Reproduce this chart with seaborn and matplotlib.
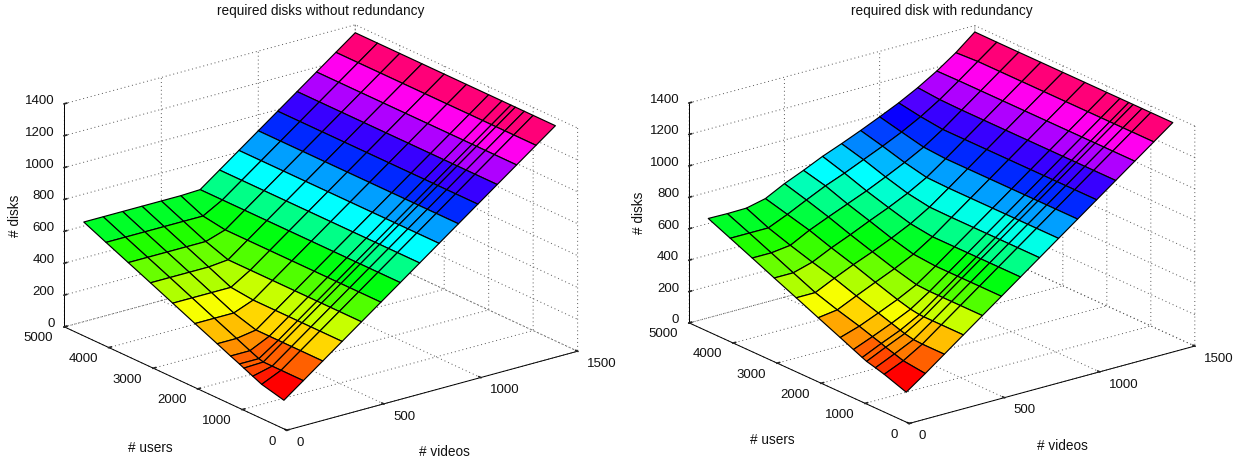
import numpy as np
import seaborn as sns
import matplotlib
matplotlib.use("Agg")
import matplotlib.pyplot as plt
from mpl_toolkits.mplot3d import proj3d

videos = [100, 200, 300, 400, 500, 600, 700, 800, 900, 1000, 1100, 1200, 1300, 1400, 1500]
users = [500, 1000, 1200, 1400, 1500, 1700, 2000, 2500, 3000, 3500, 4000, 4500, 5000]

# rows follow users, columns follow videos
disks_plain = [
    [90, 180, 270, 360, 450, 540, 630, 720, 810, 900, 990, 1080, 1170, 1260, 1350],
    [125, 180, 270, 360, 450, 540, 630, 720, 810, 900, 990, 1080, 1170, 1260, 1350],
    [150, 180, 270, 360, 450, 540, 630, 720, 810, 900, 990, 1080, 1170, 1260, 1350],
    [175, 180, 270, 360, 450, 540, 630, 720, 810, 900, 990, 1080, 1170, 1260, 1350],
    [188, 188, 270, 360, 450, 540, 630, 720, 810, 900, 990, 1080, 1170, 1260, 1350],
    [212, 212, 270, 360, 450, 540, 630, 720, 810, 900, 990, 1080, 1170, 1260, 1350],
    [250, 250, 270, 360, 450, 540, 630, 720, 810, 900, 990, 1080, 1170, 1260, 1350],
    [312, 312, 312, 360, 450, 540, 630, 720, 810, 900, 990, 1080, 1170, 1260, 1350],
    [375, 375, 375, 375, 450, 540, 630, 720, 810, 900, 990, 1080, 1170, 1260, 1350],
    [438, 438, 438, 438, 450, 540, 630, 720, 810, 900, 990, 1080, 1170, 1260, 1350],
    [500, 500, 500, 500, 500, 540, 630, 720, 810, 900, 990, 1080, 1170, 1260, 1350],
    [562, 562, 562, 562, 562, 562, 630, 720, 810, 900, 990, 1080, 1170, 1260, 1350],
    [625, 625, 625, 625, 625, 625, 630, 720, 810, 900, 990, 1080, 1170, 1260, 1350],
]
disks_redundant = [
    [102, 188, 278, 368, 458, 548, 638, 728, 818, 908, 998, 1088, 1178, 1268, 1358],
    [152, 205, 278, 368, 458, 548, 638, 728, 818, 908, 998, 1088, 1178, 1268, 1358],
    [168, 223, 281, 368, 458, 548, 638, 728, 818, 908, 998, 1088, 1178, 1268, 1358],
    [183, 240, 294, 368, 458, 548, 638, 728, 818, 908, 998, 1088, 1178, 1268, 1358],
    [195, 251, 303, 369, 458, 548, 638, 728, 818, 908, 998, 1088, 1178, 1268, 1358],
    [220, 269, 321, 378, 458, 548, 638, 728, 818, 908, 998, 1088, 1178, 1268, 1358],
    [258, 297, 348, 401, 463, 548, 638, 728, 818, 908, 998, 1088, 1178, 1268, 1358],
    [320, 337, 393, 447, 500, 560, 638, 728, 818, 908, 998, 1088, 1178, 1268, 1358],
    [383, 383, 441, 495, 544, 598, 657, 730, 818, 908, 998, 1088, 1178, 1268, 1358],
    [445, 445, 480, 538, 589, 644, 696, 754, 822, 908, 998, 1088, 1178, 1268, 1358],
    [508, 508, 523, 586, 638, 688, 738, 794, 853, 918, 998, 1088, 1178, 1268, 1358],
    [570, 570, 570, 623, 682, 739, 787, 840, 893, 950, 1015, 1091, 1178, 1268, 1358],
    [632, 630, 632, 660, 722, 774, 830, 878, 929, 983, 1039, 1103, 1176, 1260, 1359],
]
video_ticks = [0, 500, 1000, 1500]
user_ticks = [0, 1000, 2000, 3000, 4000, 5000]
disk_ticks = [0, 200, 400, 600, 800, 1000, 1200, 1400]

sns.set_theme(style="white", rc={"grid.color": "#555555", "grid.linestyle": (0, (1, 3)), "grid.linewidth": 0.7})
plt.rcParams["font.family"] = ["Liberation Sans", "DejaVu Sans"]

W, H = 1249, 463
fig = plt.figure(figsize=(W / 100, H / 100), dpi=100)
palette = sns.hls_palette(64, h=0.0, l=0.5, s=1.0)


def tick_text(ax, x, y, z, label, dx, dy, ha):
    # label sits a fixed pixel offset away from its projected tick
    px, py, _ = proj3d.proj_transform(x, y, z, ax.get_proj())
    ax.annotate(str(label), xy=(px, py), xytext=(dx, dy), textcoords="offset pixels",
                ha=ha, va="center", fontsize=9.5, color="#111111", annotation_clip=False)


def draw_panel(disks, title, center, zoom, label_pos, elev, azim):
    # big square axes so the surface never hits the clip box
    size = 640
    left = center[0] - 0.5135 * size
    bottom = (H - center[1]) - 0.5135 * size
    ax = fig.add_axes([left / W, bottom / H, size / W, size / H], projection="3d", proj_type="ortho")
    ax.patch.set_alpha(0)
    ax.set_box_aspect((1, 1, 0.652), zoom=zoom)
    ax.view_init(elev=elev, azim=azim)

    z = np.array(disks, dtype=float)
    xx, yy = np.meshgrid(videos, users)
    # flat shading, colour comes from the first corner of each cell
    idx = ((z - z.min()) / (z.max() - z.min()) * 64).astype(int).clip(0, 63)
    colors = np.array(palette)[idx]
    ax.plot_surface(xx, yy, z, facecolors=colors, rstride=1, cstride=1, shade=False,
                    edgecolor="black", linewidth=0.85, antialiased=True)

    ax.set_xlim(0, 1500, view_margin=0)
    ax.set_ylim(0, 5000, view_margin=0)
    ax.set_zlim(0, 1400, view_margin=0)
    ax.set_xticks(video_ticks)
    ax.set_yticks(user_ticks)
    ax.set_zticks(disk_ticks)
    ax.set_xticklabels([])
    ax.set_yticklabels([])
    ax.set_zticklabels([])

    for axis in (ax.xaxis, ax.yaxis, ax.zaxis):
        axis.set_pane_color((1, 1, 1, 0))
        axis.pane.set_edgecolor((1, 1, 1, 0))
        axis.line.set_color("black")
        axis.line.set_linewidth(0.7)
        axis._axinfo["tick"]["inward_factor"] = 0.02
        axis._axinfo["tick"]["outward_factor"] = 0.11
    ax.grid(True)

    ax.figure.canvas.draw()
    for t in video_ticks:
        tick_text(ax, t, 0, 0, t, 9.5, -12.8, "left")
    for t in user_ticks:
        tick_text(ax, 0, t, 0, t, -11, -11.4, "right")
    for t in disk_ticks:
        tick_text(ax, 0, 5000, t, t, -10, 3, "right")

    fig.text(center[0] / W, 1 - 11.5 / H, title, ha="center", va="center", fontsize=9.8, color="#111111")
    fig.text(label_pos[0][0] / W, 1 - label_pos[0][1] / H, "# users", ha="center", va="center", fontsize=9.8, color="#111111")
    fig.text(label_pos[1][0] / W, 1 - label_pos[1][1] / H, "# videos", ha="center", va="center", fontsize=9.8, color="#111111")
    fig.text(label_pos[2][0] / W, 1 - label_pos[2][1] / H, "# disks", ha="center", va="center", rotation=90, fontsize=9.8, color="#111111")
    return ax


draw_panel(disks_plain, "required disks without redundancy", (321, 227.5), 553.5 / 640,
           [(150, 447.5), (444, 452.5), (15, 216)], 20.8, 232.6)
draw_panel(disks_redundant, "required disk with redundancy", (942, 224.5), 545 / 640,
           [(772, 440.5), (1062, 446.5), (639, 213)], 20.6, 232.4)

fig.savefig("out.png", dpi=100)
